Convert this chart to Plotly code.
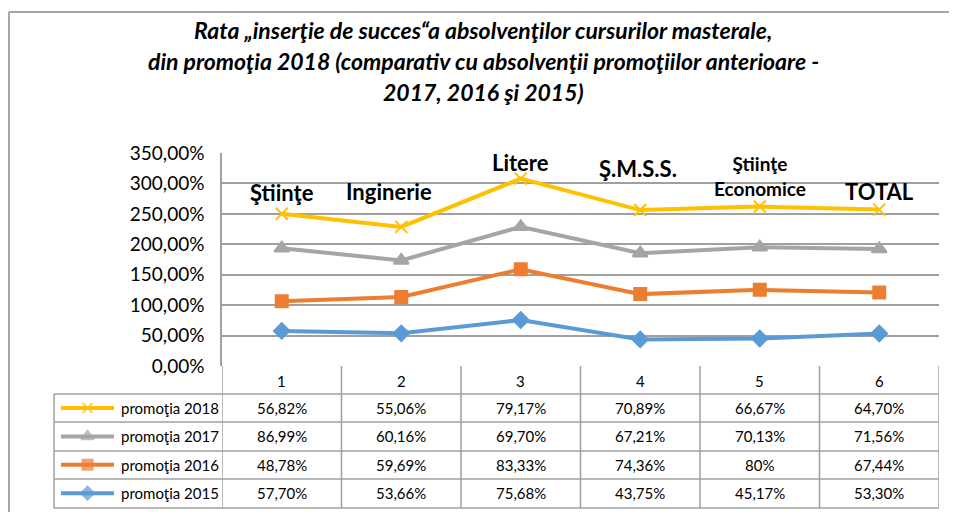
import plotly.graph_objects as go

categories = [1, 2, 3, 4, 5, 6]
cat_labels = ["1", "2", "3", "4", "5", "6"]
faculties = ["Ştiinţe", "Inginerie", "Litere", "Ş.M.S.S.", "Ştiinţe<br>Economice", "TOTAL"]

p2015 = [0.5770, 0.5366, 0.7568, 0.4375, 0.4517, 0.5330]
p2016 = [0.4878, 0.5969, 0.8333, 0.7436, 0.80, 0.6744]
p2017 = [0.8699, 0.6016, 0.6970, 0.6721, 0.7013, 0.7156]
p2018 = [0.5682, 0.5506, 0.7917, 0.7089, 0.6667, 0.6470]

table_text = {
    "promoţia 2018": ["56,82%", "55,06%", "79,17%", "70,89%", "66,67%", "64,70%"],
    "promoţia 2017": ["86,99%", "60,16%", "69,70%", "67,21%", "70,13%", "71,56%"],
    "promoţia 2016": ["48,78%", "59,69%", "83,33%", "74,36%", "80%", "67,44%"],
    "promoţia 2015": ["57,70%", "53,66%", "75,68%", "43,75%", "45,17%", "53,30%"],
}

series = [
    ("promoţia 2015", p2015, "#5B9BD5", "diamond", 12),
    ("promoţia 2016", p2016, "#ED7D31", "square", 12),
    ("promoţia 2017", p2017, "#A5A5A5", "triangle-up", 13),
    ("promoţia 2018", p2018, "#FFC000", "x-thin", 12),
]
row_names = ["promoţia 2018", "promoţia 2017", "promoţia 2016", "promoţia 2015"]

FONT = "Lato"
OFF = 8  # page body margin offset
W, H = 957 - OFF, 512 - OFF
# layout positions given in page pixels
plot_l, plot_r, plot_t, plot_b, table_b, table_l = 222, 939, 153, 366, 508, 54
L = table_l - OFF
T = plot_t - OFF
R = W - (plot_r - OFF)
B = H - (table_b - OFF)
PW, PH = W - L - R, H - T - B
xd0 = (plot_l - table_l) / PW
yd0 = (table_b - plot_b) / PH
row_edges = [366, 394, 422, 451, 479, 508]
row_h = 28.4
row0_c = 408


def py(pix):
    return (table_b - pix) / PH


def px(pix):
    return (pix - table_l) / PW


fig = go.Figure()
for name, vals, color, sym, size in series:
    fig.add_trace(go.Scatter(
        x=categories, y=vals, name=name, stackgroup="s", fill="none",
        mode="lines+markers", showlegend=False,
        line=dict(color=color, width=4),
        marker=dict(symbol=sym, size=size, color=color,
                    line=dict(color=color, width=2)),
    ))

# legend keys inside the data table (overlay axis in page-pixel units)
style = {n: (c, s, z) for n, _, c, s, z in series}
for r, nm in enumerate(row_names):
    color, sym, size = style[nm]
    fig.add_trace(go.Scatter(
        x=[61, 87.5, 114], y=[r, r, r], xaxis="x2", yaxis="y2",
        mode="lines+markers", showlegend=False, hoverinfo="skip",
        line=dict(color=color, width=4),
        marker=dict(symbol=sym, size=[0, size - 2, 0], color=color,
                    line=dict(color=color, width=2)),
    ))
    fig.add_annotation(x=119, y=r, xref="x2", yref="y2", text=nm, showarrow=False,
                       xanchor="left", yanchor="middle",
                       font=dict(family=FONT, size=15, color="#000000"))

# category labels above top (cumulative) series
tops = [a + b + c + d for a, b, c, d in zip(p2015, p2016, p2017, p2018)]
label_shift = [21, 35, 16, 42, 31, 18]
label_xshift = [0, -12, 0, -2, 0, 0]
for c, lab, tv, sh, xs in zip(categories, faculties, tops, label_shift, label_xshift):
    sz = 22 if "<br>" not in lab else 19
    fig.add_annotation(x=c, y=tv, xref="x", yref="y", text="<b>" + lab + "</b>",
                       showarrow=False, yshift=sh, xshift=xs, yanchor="middle",
                       font=dict(family=FONT, size=sz, color="#000000"))

# title lines
title_lines = [
    "Rata „inserţie de succes“a absolvenţilor cursurilor masterale,",
    "din promoţia 2018 (comparativ cu absolvenţii promoţiilor anterioare -",
    "2017, 2016 şi 2015)",
]
for i, t in enumerate(title_lines):
    fig.add_annotation(x=px(483), y=py(30 + 31 * i), xref="paper", yref="paper",
                       text="<b><i>" + t + "</i></b>", showarrow=False,
                       xanchor="center", yanchor="middle",
                       font=dict(family=FONT, size=23, color="#000000"))

# table geometry
grid = "#A0A0A0"
shapes = []
for yy in row_edges[1:]:
    shapes.append(dict(type="line", xref="paper", yref="paper", x0=0, x1=1,
                       y0=py(yy), y1=py(yy), line=dict(color=grid, width=1.5)))
for b in [0.5, 1.5, 2.5, 3.5, 4.5, 5.5, 6.5]:
    shapes.append(dict(type="line", xref="x", yref="paper", x0=b, x1=b,
                       y0=py(366), y1=py(508), line=dict(color=grid, width=1.5)))
shapes.append(dict(type="line", xref="paper", yref="paper", x0=0, x1=0,
                   y0=py(394), y1=py(508), line=dict(color=grid, width=1.5)))
# outer chart border
shapes.append(dict(type="line", xref="paper", yref="paper",
                   x0=px(9), x1=px(957), y0=py(12), y1=py(12),
                   line=dict(color="#A6A6A6", width=2)))
shapes.append(dict(type="line", xref="paper", yref="paper",
                   x0=px(9), x1=px(9), y0=py(12), y1=py(512),
                   line=dict(color="#A6A6A6", width=2)))

# header row numbers
for c, lab in zip(categories, cat_labels):
    fig.add_annotation(x=c, y=py(381), xref="x", yref="paper", text=lab,
                       showarrow=False, font=dict(family=FONT, size=15, color="#000000"))

for r, nm in enumerate(row_names):
    for c, txt in zip(categories, table_text[nm]):
        fig.add_annotation(x=c, y=r, xref="x", yref="y2", text=txt,
                           showarrow=False, yanchor="middle",
                           font=dict(family=FONT, size=15, color="#000000"))

y2_top = (366 - row0_c) / row_h
y2_bot = (508 - row0_c) / row_h

fig.update_layout(
    width=W, height=H,
    margin=dict(l=L, r=R, t=T, b=B, autoexpand=False),
    paper_bgcolor="white", plot_bgcolor="white",
    separators=",.",
    font=dict(family=FONT, color="#000000"),
    shapes=shapes,
    showlegend=False,
    xaxis=dict(domain=[xd0, 1], range=[0.5, 6.5], showticklabels=False,
               showgrid=False, zeroline=False, showline=False, ticks=""),
    yaxis=dict(domain=[yd0, 1], range=[0, 3.5], dtick=0.5, tickformat=".2%",
               showgrid=True, gridcolor=grid, gridwidth=1.5, zeroline=False,
               showline=True, linecolor=grid, linewidth=1.5,
               tickfont=dict(family=FONT, size=19, color="#000000"), ticks="",
               ticklabelstandoff=12),
    xaxis2=dict(domain=[0, 1], range=[table_l, plot_r], anchor="y2", visible=False,
                fixedrange=True),
    yaxis2=dict(domain=[0, yd0], range=[y2_bot, y2_top], anchor="x2", visible=False,
                fixedrange=True),
)

fig.write_html("out.html")
